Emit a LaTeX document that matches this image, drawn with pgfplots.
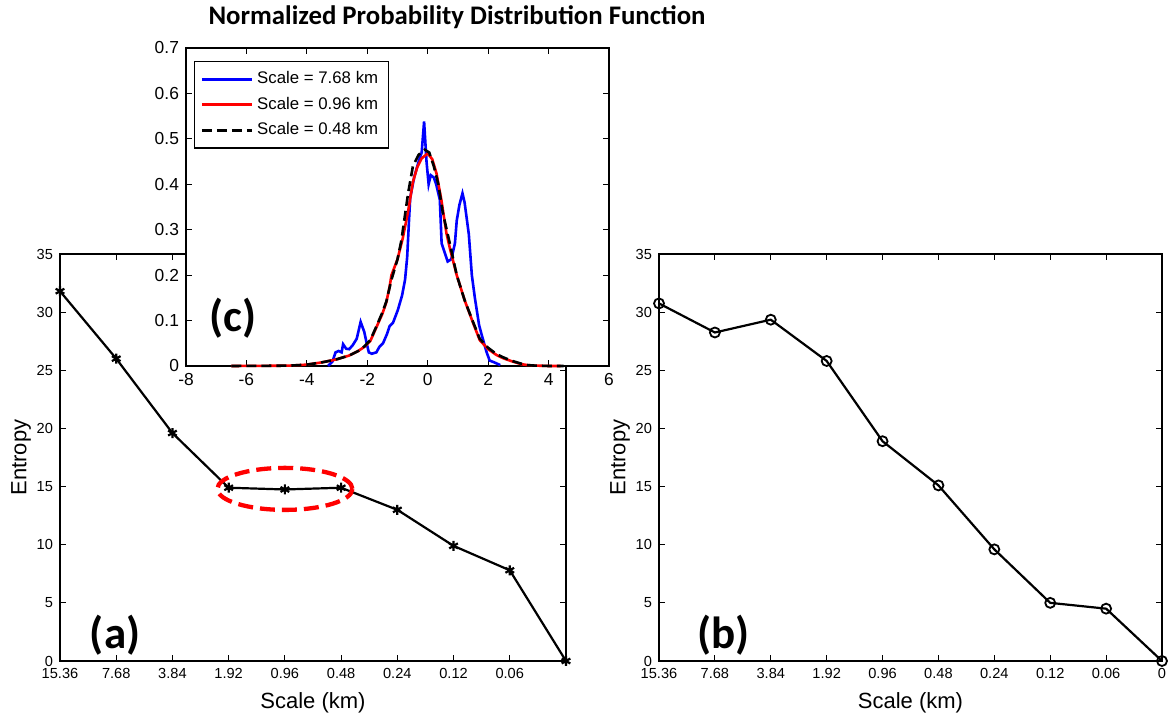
\documentclass[border=0pt]{standalone}
\usepackage{pgfplots}
\pgfplotsset{compat=1.18}
\usepackage{fontspec}
\setmainfont{Liberation Sans}
\newfontfamily\carlito{Carlito}
\begin{document}
\begin{tikzpicture}
\pgfplotsset{
 matstyle/.style={
  scale only axis, axis line style={line width=0.8pt},
  every tick/.style={black, line width=0.6pt}, major tick length=3pt,
  /pgf/number format/assume math mode=true,
  tick label style={font=\fontsize{7.3}{8.5}\selectfont},
  label style={font=\fontsize{11}{13}\selectfont},
  ylabel shift=-4pt,
  clip=false,
 }}
% ---------- (a)
\begin{axis}[matstyle, at={(30pt,27pt)}, anchor=south west, width=253pt, height=203.5pt,
  xmin=0, xmax=9, ymin=0, ymax=35, xtick={0,...,9},
  xticklabels={15.36,7.68,3.84,1.92,0.96,0.48,0.24,0.12,0.06,{}},
  ytick={0,5,...,35}, xlabel={Scale (km)}, ylabel={Entropy}]
\addplot[black, line width=1.1pt, mark=asterisk, mark size=2.5pt] coordinates {
(0,31.8)(1,26.0)(2,19.6)(3,14.9)(4,14.75)(5,14.9)(6,13.0)(7,9.9)(8,7.8)(9,0)};
\draw[red, line width=2.15pt, dash pattern=on 7.5pt off 3.5pt] (axis cs:4,14.8) ellipse [x radius=33.75pt, y radius=10.5pt];
\node[font=\carlito\bfseries\fontsize{22.5}{27}\selectfont] at (axis cs:0.98,2.2) {(a)};
\end{axis}
% ---------- (b)
\begin{axis}[matstyle, at={(329.5pt,27pt)}, anchor=south west, width=251.5pt, height=203.5pt,
  xmin=0, xmax=9, ymin=0, ymax=35, xtick={0,...,9},
  xticklabels={15.36,7.68,3.84,1.92,0.96,0.48,0.24,0.12,0.06,0},
  ytick={0,5,...,35}, xlabel={Scale (km)}, ylabel={Entropy}]
\addplot[black, line width=1.1pt, mark=o, mark size=2.5pt, mark options={line width=0.9pt}] coordinates {
(0,30.75)(1,28.25)(2,29.35)(3,25.8)(4,18.9)(5,15.1)(6,9.6)(7,5.0)(8,4.5)(9,0)};
\node[font=\carlito\bfseries\fontsize{22.5}{27}\selectfont] at (axis cs:1.15,2.2) {(b)};
\end{axis}
% ---------- (c)
\begin{axis}[matstyle, at={(93pt,174.5pt)}, anchor=south west, width=211.5pt, height=159pt,
  axis background/.style={fill=white},
  xmin=-8, xmax=6, ymin=0, ymax=0.7, xtick={-8,-6,...,6},
  ytick={0,0.1,0.2,0.3,0.4,0.5,0.6,0.7},
  tick label style={font=\fontsize{8.7}{10}\selectfont},
  legend style={at={(0.019,0.959)}, anchor=north west, draw=black, line width=0.6pt,
    font=\fontsize{8.4}{10}\selectfont, row sep=1.2pt, inner xsep=3pt, inner ysep=3pt},
  legend cell align=left,
  legend image code/.code={\draw[#1] (0pt,0pt) -- (25pt,0pt);}]
\addplot[blue, line width=1.3pt] coordinates {
(-3.3,0)(-3.15,0.01)(-3.05,0.03)(-2.95,0.033)(-2.85,0.03)(-2.8,0.048)(-2.7,0.038)(-2.6,0.037)
(-2.48,0.046)(-2.35,0.06)(-2.22,0.097)(-2.1,0.075)(-2.02,0.05)(-1.95,0.03)(-1.85,0.027)(-1.7,0.03)
(-1.6,0.042)(-1.48,0.05)(-1.35,0.07)(-1.26,0.088)(-1.15,0.095)(-0.99,0.123)(-0.85,0.155)(-0.75,0.19)
(-0.68,0.24)(-0.62,0.32)(-0.58,0.37)(-0.45,0.415)(-0.3,0.45)(-0.2,0.47)(-0.12,0.538)(-0.04,0.45)
(0.03,0.40)(0.1,0.42)(0.2,0.415)(0.28,0.40)(0.4,0.366)(0.46,0.27)(0.56,0.25)(0.66,0.23)(0.78,0.235)
(0.9,0.27)(0.96,0.32)(1.05,0.355)(1.15,0.38)(1.22,0.36)(1.36,0.29)(1.46,0.2)(1.56,0.15)(1.7,0.09)
(1.78,0.07)(1.95,0.03)(2.05,0.012)(2.2,0.008)(2.4,0.002)};
\addlegendentry{Scale = 7.68 km}
\addplot[red, line width=1.3pt] coordinates {
(-6.5,0)(-5,0.0005)(-4.5,0.001)(-4,0.003)(-3.5,0.008)(-3.2,0.012)(-3,0.015)(-2.6,0.023)(-2.3,0.033)
(-2.1,0.042)(-1.9,0.055)(-1.7,0.085)(-1.5,0.115)(-1.37,0.14)(-1.26,0.175)(-1.2,0.2)(-1.0,0.235)
(-0.83,0.28)(-0.65,0.34)(-0.49,0.405)(-0.35,0.437)(-0.2,0.457)(0.0,0.468)(0.15,0.455)(0.29,0.424)
(0.45,0.366)(0.62,0.292)(0.73,0.26)(0.96,0.2)(1.22,0.145)(1.5,0.095)(1.72,0.057)(2.0,0.037)
(2.28,0.024)(2.5,0.017)(2.8,0.01)(3.1,0.004)(3.3,0.002)(3.5,0.001)(4.0,0)(4.4,0)};
\addlegendentry{Scale = 0.96 km}
\addplot[black, line width=1.3pt, dash pattern=on 5pt off 2.5pt] coordinates {
(-6.5,0)(-5,0.0005)(-4.5,0.001)(-4,0.003)(-3.5,0.008)(-3.2,0.012)(-3,0.015)(-2.6,0.023)(-2.3,0.033)
(-2.1,0.043)(-1.9,0.057)(-1.7,0.087)(-1.5,0.118)(-1.37,0.142)(-1.2,0.19)(-1.0,0.235)
(-0.87,0.277)(-0.65,0.38)(-0.49,0.44)(-0.3,0.465)(-0.1,0.476)(0.05,0.47)(0.2,0.44)(0.35,0.40)
(0.5,0.337)(0.73,0.27)(0.96,0.2)(1.22,0.145)(1.5,0.097)(1.72,0.06)(2.0,0.04)(2.28,0.026)(2.5,0.019)
(2.8,0.011)(3.1,0.005)(3.3,0.002)(3.5,0.001)(4.0,0)(4.5,0)};
\addlegendentry{Scale = 0.48 km}
\node[font=\carlito\bfseries\fontsize{22.5}{27}\selectfont] at (axis cs:-6.44,0.105) {(c)};
\end{axis}
\node[font=\carlito\bfseries\fontsize{13.4}{16}\selectfont, anchor=base] at (228.5pt,345pt) {Normalized Probability Distribution Function};
\pgfresetboundingbox
\useasboundingbox (0,0) rectangle (585.5pt,357.5pt);
\end{tikzpicture}
\end{document}
